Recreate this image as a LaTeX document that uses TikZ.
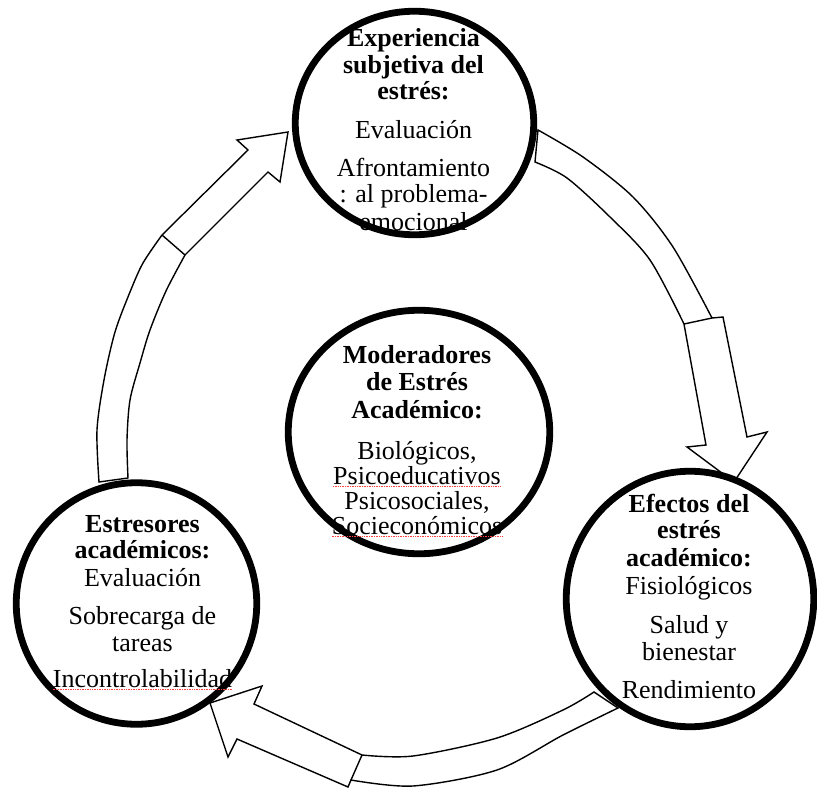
\documentclass[tikz,border=0pt]{standalone}
\usepackage{fontspec}
\setmainfont{Liberation Serif}
\usetikzlibrary{shapes.geometric,shadows}
\tikzset{
  bubble/.style={ellipse, draw=black, line width=6.8pt, fill=white, inner sep=0pt,
    drop shadow={shadow xshift=0.5pt, shadow yshift=-3pt, opacity=0.25}},
  blockarrow/.style={draw=black, line width=1.4pt, fill=white, line join=miter, miter limit=10},
  seam/.style={draw=black, line width=1.4pt},
  lbl/.style={anchor=base, inner sep=0pt, font=\fontsize{26}{27}\selectfont},
  hd/.style={anchor=base, inner sep=0pt, font=\fontsize{26}{27}\selectfont\bfseries},
  spell/.style={draw=red!75, line width=0.7pt, densely dotted},
}
\begin{document}
\begin{tikzpicture}[x=1pt,y=-1pt]
\useasboundingbox (0,0) rectangle (817,789);
\fill[white] (0,0) rectangle (817,789);

% ---- block arrows (behind circles)
% left arrow: from Estresores up to Experiencia
\draw[blockarrow] plot[smooth] coordinates {(128,478) (127,440) (130,400) (140,363) (150,330) (166,291) (185,255)}
  -- (268,172) -- (280,182) -- (288,132) -- (237,140) -- (248,150)
  -- plot[smooth] coordinates {(162,235) (143,263) (130,292) (115,332) (104,380) (97,430) (99,482)} -- cycle;
\draw[seam] (162,235) -- (185,255);

% right arrow: from Experiencia down to Efectos
\draw[blockarrow] plot[smooth] coordinates {(538,130) (583,157) (633,197) (673,247) (712,318)}
  -- (723,317) -- (747,437) -- (767,432) -- (734,482) -- (687,447) -- (706,445)
  -- plot[smooth] coordinates {(684,324) (650,260) (610,217) (567,178) (535,162)} -- cycle;
\draw[seam] (684,324) -- (712,318);

% bottom arrow: from Efectos back to Estresores
\draw[blockarrow] plot[smooth] coordinates {(594,692) (563,710) (497,738) (413,756) (362,755)}
  -- (254,704) -- (262,686) -- (210,703) -- (228,757) -- (237,739) -- (348,787)
  -- plot[smooth] coordinates {(351,780) (413,786) (497,770) (563,735) (618,708)} -- cycle;
\draw[seam] (362,755) -- (351,780);

% ---- circles
\node[bubble, minimum width=238.5pt, minimum height=223.5pt] (exp) at (414.5,123) {};
\node[bubble, minimum width=240.5pt, minimum height=241.5pt] (estr) at (136.5,603.5) {};
\node[bubble, minimum width=247.5pt, minimum height=255.5pt] (efec) at (690,599) {};
\node[bubble, minimum width=261.5pt, minimum height=243.5pt] (mod) at (419,432) {};

% ---- texts: top circle
\node[hd]  (e1) at (413.5,47)  {Experiencia};
\node[hd]  (e2) at (413.5,74)  {subjetiva del};
\node[hd]  (e3) at (413.5,100) {estrés:};
\node[lbl] (e4) at (413.5,139) {Evaluación};
\node[lbl] (e5) at (413.5,177) {Afrontamiento};
\node[lbl] (e6) at (413.5,203) {: al problema-};
\node[lbl] (e7) at (413.5,230) {emocional};

% ---- texts: left circle
\node[hd]  (s1) at (142.5,532) {Estresores};
\node[hd]  (s2) at (142.5,558) {académicos:};
\node[lbl] (s3) at (142.5,586) {Evaluación};
\node[lbl] (s4) at (142.5,624) {Sobrecarga de};
\node[lbl] (s5) at (142.5,651) {tareas};
\node[lbl] (s6) at (142.5,687) {Incontrolabilidad};
\draw[spell] ([yshift=-2.5pt]s6.base west) -- ([yshift=-2.5pt]s6.base east);

% ---- texts: right circle
\node[hd]  (f1) at (689,512) {Efectos del};
\node[hd]  (f2) at (689,538) {estrés};
\node[hd]  (f3) at (689,566) {académico:};
\node[lbl] (f4) at (689,594) {Fisiológicos};
\node[lbl] (f5) at (689,633) {Salud y};
\node[lbl] (f6) at (689,660) {bienestar};
\node[lbl] (f7) at (689,698) {Rendimiento};

% ---- texts: centre circle
\node[hd]  (m1) at (417,363) {Moderadores};
\node[hd]  (m2) at (417,390) {de Estrés};
\node[hd]  (m3) at (417,418) {Académico:};
\node[lbl] (m4) at (417,459) {Biológicos,};
\node[lbl] (m5) at (417,484) {Psicoeducativos};
\node[lbl] (m6) at (417,509) {Psicosociales,};
\node[lbl] (m7) at (417,534) {Socieconómicos};
\draw[spell] ([yshift=-2.5pt]m5.base west) -- ([yshift=-2.5pt]m5.base east);
\draw[spell] ([yshift=-2.5pt]m7.base west) -- ([yshift=-2.5pt]m7.base east);
\end{tikzpicture}
\end{document}
